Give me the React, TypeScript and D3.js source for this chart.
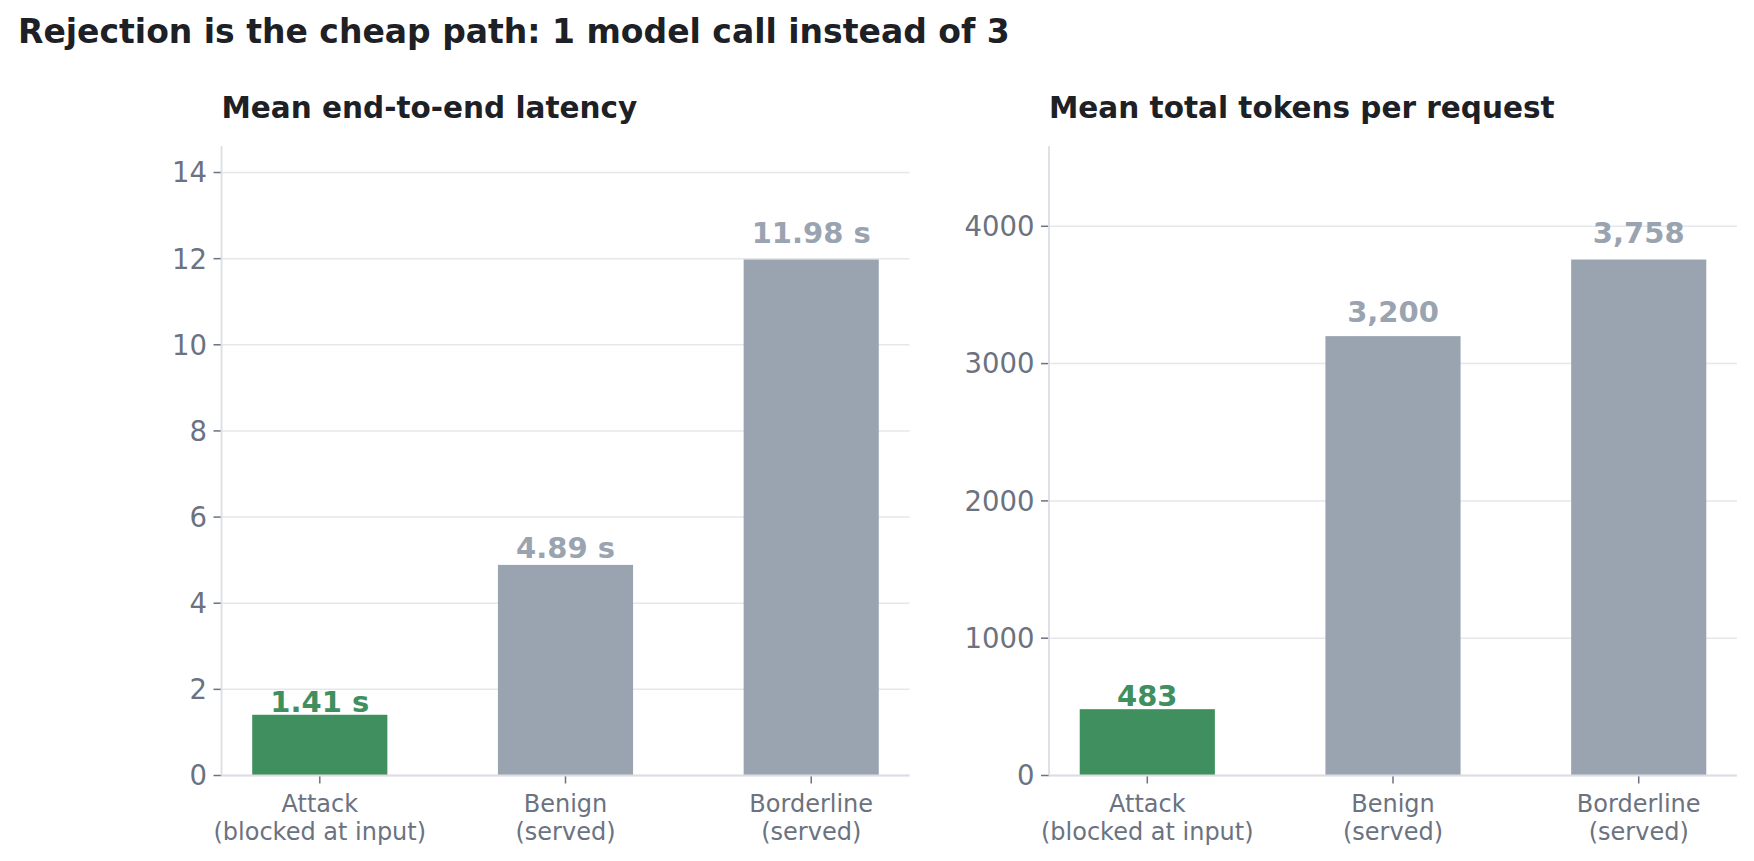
import * as d3 from "d3";
import React from "react";

const categories = ["Attack\n(blocked at input)", "Benign\n(served)", "Borderline\n(served)"];
const latencySeconds = [1.41, 4.89, 11.98];
const totalTokens = [483, 3200, 3758];
const latencyTicks = [0, 2, 4, 6, 8, 10, 12, 14];
const tokenTicks = [0, 1000, 2000, 3000, 4000];
const barColors = ["#3f8f5f", "#9aa4b0", "#9aa4b0"];

const W = 1754;
const H = 861;
const FONT = "DejaVu Sans";
const TICK_COLOR = "#6b7280";
const GRID = "#e5e7eb";
const SPINE = "#dddee4";

const top = 146;
const bottom = 775.5;
const panelWidth = 688;

function Panel({left, title, values, ticks, fmt}: {
    left: number,
    title: string,
    values: number[],
    ticks: number[],
    fmt: (v: number) => string
}) {
    const yMax = (d3.max(values) as number) * 1.22;
    const x = d3.scaleBand<string>()
        .domain(categories)
        .range([left, left + panelWidth])
        .paddingInner(0.45)
        .paddingOuter(0.125);
    const y = d3.scaleLinear().domain([0, yMax]).range([bottom, top]);

    return (
        <g>
            <text x={left} y={118} fontFamily={FONT} fontWeight="bold" fontSize={29.5} fill="#1d2025">{title}</text>
            {ticks.map(t => (
                <g key={t}>
                    <line x1={left} x2={left + panelWidth} y1={y(t)} y2={y(t)} stroke={GRID} strokeWidth={1.5}/>
                    <line x1={left - 8} x2={left} y1={y(t)} y2={y(t)} stroke={TICK_COLOR} strokeWidth={1.5}/>
                    <text x={left - 14.5} y={y(t)} dy="0.36em" textAnchor="end" fontFamily={FONT} fontSize={27.5}
                          fill={TICK_COLOR}>{t}</text>
                </g>
            ))}
            {values.map((v, i) => {
                const c = categories[i];
                const bx = x(c)!;
                const cx = bx + x.bandwidth() / 2;
                const gap = 1 + 19 * v / yMax;
                return (
                    <g key={c}>
                        <rect x={bx} y={y(v)} width={x.bandwidth()} height={bottom - y(v)} fill={barColors[i]}/>
                        <text x={cx} y={y(v) - gap} textAnchor="middle" fontFamily={FONT} fontWeight="bold"
                              fontSize={29} fill={barColors[i]}>{fmt(v)}</text>
                        <line x1={cx} x2={cx} y1={bottom} y2={bottom + 8} stroke={TICK_COLOR} strokeWidth={1.5}/>
                        {c.split("\n").map((line, j) => (
                            <text key={j} x={cx} y={812 + j * 27.5} textAnchor="middle" fontFamily={FONT}
                                  fontSize={24} fill={TICK_COLOR}>{line}</text>
                        ))}
                    </g>
                );
            })}
            <line x1={left} x2={left} y1={top} y2={bottom} stroke={SPINE} strokeWidth={1.8}/>
            <line x1={left} x2={left + panelWidth} y1={bottom} y2={bottom} stroke={SPINE} strokeWidth={1.8}/>
        </g>
    );
}

export default function App() {
    const comma = d3.format(",");
    return (
        <div style={{position: "fixed", left: 0, top: 0, width: W, height: H, background: "#fff"}}>
            <svg width={W} height={H} viewBox={`0 0 ${W} ${H}`}>
                <rect width={W} height={H} fill="#fff"/>
                <text x={18} y={43} fontFamily={FONT} fontWeight="bold" fontSize={33} fill="#1d2025">
                    Rejection is the cheap path: 1 model call instead of 3
                </text>
                <Panel left={221.5} title="Mean end-to-end latency" values={latencySeconds} ticks={latencyTicks}
                       fmt={v => `${v.toFixed(2)} s`}/>
                <Panel left={1049} title="Mean total tokens per request" values={totalTokens} ticks={tokenTicks}
                       fmt={v => comma(v)}/>
            </svg>
        </div>
    );
}
